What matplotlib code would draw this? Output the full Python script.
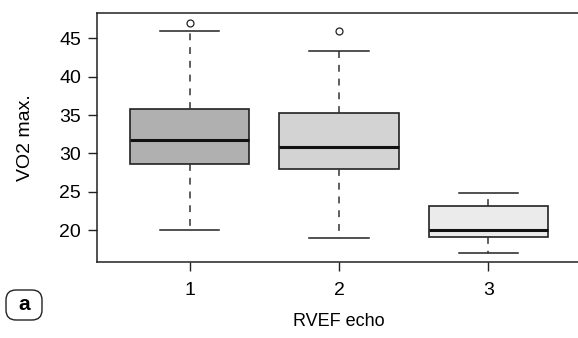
import matplotlib.pyplot as plt
from matplotlib.patches import FancyBboxPatch

# RVEF echo groups, box statistics
groups = ["1", "2", "3"]
q1 = [28.55, 28.0, 19.1]
med = [31.7, 30.8, 19.95]
q3 = [35.8, 35.2, 23.1]
whislo = [20.0, 19.0, 17.05]
whishi = [45.9, 43.35, 24.85]
outliers = [[47.0], [46.0], []]
box_colors = ["#b0b0b0", "#d3d3d3", "#ebebeb"]

stats = []
for i, g in enumerate(groups):
    stats.append(dict(label=g, q1=q1[i], med=med[i], q3=q3[i],
                      whislo=whislo[i], whishi=whishi[i], fliers=outliers[i]))

plt.rcParams["font.family"] = ["Liberation Sans", "DejaVu Sans"]

W, H = 578, 338
fig = plt.figure(figsize=(W / 100, H / 100), dpi=100)
ax = fig.add_axes([97 / W, (H - 262.3) / H, (581 - 97) / W, (262.3 - 13) / H])

bp = ax.bxp(stats, positions=[1, 2, 3], widths=0.8, patch_artist=True,
            boxprops=dict(edgecolor="#222222", linewidth=1.2),
            medianprops=dict(color="#111111", linewidth=2.2),
            whiskerprops=dict(color="#333333", linewidth=1.1, linestyle=(0, (4.5, 4.5))),
            capprops=dict(color="#222222", linewidth=1.1),
            flierprops=dict(marker="o", markersize=5, markerfacecolor="none",
                            markeredgecolor="#222222", markeredgewidth=0.9))
for patch, c in zip(bp["boxes"], box_colors):
    patch.set_facecolor(c)
for cap in bp["caps"]:
    x0, x1 = cap.get_xdata()
    mid = (x0 + x1) / 2
    cap.set_xdata([mid - 0.2, mid + 0.2])

ax.set_xlim(0.38, 3.62)
ax.set_ylim(15.8, 48.3)
ax.set_yticks([20, 25, 30, 35, 40, 45])
ax.set_xticks([1, 2, 3])
ax.set_xticklabels(groups)
ax.tick_params(axis="both", direction="out", length=6.5, width=1, labelsize=14,
               color="#222222", pad=5)
ax.tick_params(axis="x", pad=8)
for s in ax.spines.values():
    s.set_linewidth(1.1)
    s.set_color("#222222")
ax.spines["right"].set_visible(False)

ax.set_ylabel("VO2 max.", fontsize=14, labelpad=18)
ax.set_xlabel("RVEF echo", fontsize=13, labelpad=10)

# panel tag "a" in a rounded box (coordinates in inches)
tag = FancyBboxPatch((0.06, (H - 320) / 100), 0.36, 0.30,
                     boxstyle="round,pad=0,rounding_size=0.1",
                     transform=fig.dpi_scale_trans, facecolor="white",
                     edgecolor="#222222", linewidth=1)
fig.patches.append(tag)
fig.text(24 / W, 1 - 305 / H, "a", fontsize=15, fontweight="bold",
         ha="center", va="center")

fig.savefig("out.png", dpi=100)
